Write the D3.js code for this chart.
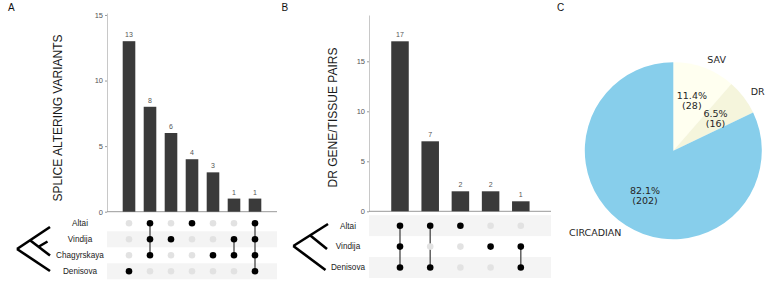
<!DOCTYPE html>
<html><head><meta charset="utf-8">
<script src="https://cdn.jsdelivr.net/npm/d3@7"></script>
<style>
html,body{margin:0;padding:0;background:#fff;}
svg{display:block;}
</style></head>
<body>
<svg id="chart" width="768" height="281"></svg>
<script>
// ---------- data ----------
const setsA = ["Altai", "Vindija", "Chagyrskaya", "Denisova"];
const countsA = [13, 8, 6, 4, 3, 1, 1];
const combosA = [
  ["Denisova"],
  ["Altai", "Vindija", "Chagyrskaya"],
  ["Vindija"],
  ["Altai"],
  ["Chagyrskaya"],
  ["Vindija", "Chagyrskaya"],
  ["Altai", "Vindija", "Chagyrskaya", "Denisova"]
];
const ticksA = [0, 5, 10, 15];
const titleA = "SPLICE ALTERING VARIANTS";

const setsB = ["Altai", "Vindija", "Denisova"];
const countsB = [17, 7, 2, 2, 1];
const combosB = [
  ["Altai", "Vindija", "Denisova"],
  ["Altai", "Denisova"],
  ["Altai"],
  ["Vindija"],
  ["Vindija", "Denisova"]
];
const ticksB = [0, 5, 10, 15];
const titleB = "DR GENE/TISSUE PAIRS";

const pieLabels = ["SAV", "DR", "CIRCADIAN"];
const pieValues = [28, 16, 202];
const pieColors = ["#FFFFF0", "#F5F5DC", "#87CEEB"];

// ---------- drawing ----------
const svg = d3.select("#chart");
const SANS = "'Liberation Sans', Arial, Helvetica, sans-serif";
const DEJA = "'DejaVu Sans', sans-serif";

function upset(cfg) {
  const g = svg.append("g");
  const n = cfg.counts.length;
  const x = d3.scaleBand().domain(d3.range(n)).range(cfg.xRange)
    .paddingInner(cfg.padIn).paddingOuter(0.2);
  const y = d3.scaleLinear().domain([0, cfg.yMax]).range(cfg.yRange);
  const row = d3.scalePoint().domain(cfg.sets).range(cfg.rowRange);
  const rowStep = (cfg.rowRange[1] - cfg.rowRange[0]) / (cfg.sets.length - 1);

  // row bands
  g.selectAll("rect.band").data(cfg.sets.filter((s, i) => i % 2 === cfg.bandParity))
    .join("rect").attr("class", "band")
    .attr("x", cfg.axisX).attr("width", cfg.bandRight - cfg.axisX)
    .attr("y", d => row(d) - rowStep / 2).attr("height", rowStep)
    .attr("fill", "#f4f4f4");

  // y axis
  const axis = d3.axisLeft(y).tickValues(cfg.ticks).tickSize(2).tickPadding(2).tickSizeOuter(0);
  const ag = g.append("g").attr("transform", `translate(${cfg.axisX},0)`).call(axis);
  ag.select(".domain").attr("stroke", "#c8c8c8").attr("stroke-width", 1);
  ag.selectAll(".tick line").attr("stroke", "#999");
  ag.selectAll(".tick text").attr("fill", "#555").attr("font-size", 7.5).attr("font-family", SANS);

  // baseline
  g.append("line").attr("x1", cfg.axisX).attr("x2", cfg.bandRight)
    .attr("y1", y(0)).attr("y2", y(0)).attr("stroke", "#999").attr("stroke-width", 1);

  // bars
  g.selectAll("rect.bar").data(cfg.counts).join("rect").attr("class", "bar")
    .attr("x", (d, i) => x(i)).attr("width", x.bandwidth())
    .attr("y", d => y(d)).attr("height", d => y(0) - y(d))
    .attr("fill", "#3a3a3a");
  g.selectAll("text.val").data(cfg.counts).join("text").attr("class", "val")
    .attr("x", (d, i) => x(i) + x.bandwidth() / 2).attr("y", d => y(d) - 4)
    .attr("text-anchor", "middle").attr("font-size", 7).attr("fill", "#555")
    .attr("font-family", SANS).text(d => d);

  // title
  g.append("text").attr("transform", `translate(${cfg.titleX},${cfg.titleY}) rotate(-90)`)
    .attr("text-anchor", "middle").attr("font-size", 12).attr("fill", "#1a1a1a")
    .attr("font-family", SANS).text(cfg.title);

  // set labels
  g.selectAll("text.set").data(cfg.sets).join("text").attr("class", "set")
    .attr("x", cfg.labelX).attr("y", d => row(d)).attr("dy", "0.35em")
    .attr("text-anchor", "middle").attr("font-size", 8.2).attr("fill", "#222")
    .attr("font-family", SANS).text(d => d);

  // matrix
  cfg.combos.forEach((combo, i) => {
    const cx = x(i) + x.bandwidth() / 2;
    const ys = combo.map(s => row(s));
    if (ys.length > 1) {
      g.append("line").attr("x1", cx).attr("x2", cx)
        .attr("y1", d3.min(ys)).attr("y2", d3.max(ys))
        .attr("stroke", "#555").attr("stroke-width", 1.4);
    }
    cfg.sets.forEach(s => {
      const on = combo.includes(s);
      g.append("circle").attr("cx", cx).attr("cy", row(s)).attr("r", 3.3)
        .attr("fill", on ? "#000" : "#e2e2e2");
    });
  });

  // phylogeny tree
  g.append("g").selectAll("line").data(cfg.tree).join("line")
    .attr("x1", d => d[0]).attr("y1", d => d[1]).attr("x2", d => d[2]).attr("y2", d => d[3])
    .attr("stroke", "#000").attr("stroke-width", 2.6);
}

upset({
  sets: setsA, counts: countsA, combos: combosA, ticks: ticksA, title: titleA,
  xRange: [118.5, 265.5], padIn: 0.4, yMax: 15.15, yRange: [211.7, 13],
  rowRange: [223.3, 271.3], bandParity: 1, axisX: 107, bandRight: 277,
  titleX: 61.5, titleY: 118, labelX: 80,
  tree: [[17, 249, 50, 227], [17, 249, 50, 271], [30, 240.3, 50, 255.5], [39, 246.5, 47.5, 241.5]]
});

upset({
  sets: setsB, counts: countsB, combos: combosB, ticks: ticksB, title: titleB,
  xRange: [385.2, 535.6], padIn: 0.42, yMax: 19.63, yRange: [211.3, 15],
  rowRange: [225.7, 267.5], bandParity: 0, axisX: 369, bandRight: 551,
  titleX: 337, titleY: 117.5, labelX: 348,
  tree: [[293.3, 246, 328, 224], [293.3, 246, 325.5, 270], [310, 235.3, 327, 249]]
});

// ---------- pie ----------
const cx = 673.3, cy = 150.7, R = 88.5;
const pg = svg.append("g").attr("transform", `translate(${cx},${cy})`);
const total = d3.sum(pieValues);
const arcs = d3.pie().sort(null).value(d => d)(pieValues);
const arc = d3.arc().innerRadius(0).outerRadius(R);
pg.selectAll("path").data(arcs).join("path")
  .attr("d", arc).attr("fill", (d, i) => pieColors[i]);

arcs.forEach((a, i) => {
  const mid = (a.startAngle + a.endAngle) / 2;
  const sx = Math.sin(mid), sy = -Math.cos(mid);
  // category label
  pg.append("text").attr("x", 1.1 * R * sx).attr("y", 1.1 * R * sy).attr("dy", "0.35em")
    .attr("text-anchor", sx > 0 ? "start" : "end")
    .attr("font-size", 9.5).attr("fill", "#262626").attr("font-family", DEJA)
    .text(pieLabels[i]);
  // percentage
  const px = 0.6 * R * sx, py = 0.6 * R * sy;
  const t = pg.append("text").attr("text-anchor", "middle")
    .attr("font-size", 9.5).attr("fill", "#262626").attr("font-family", DEJA);
  t.append("tspan").attr("x", px).attr("y", py - 1.5)
    .text((pieValues[i] / total * 100).toFixed(1) + "%");
  t.append("tspan").attr("x", px).attr("y", py + 8.5).text("(" + pieValues[i] + ")");
});

// ---------- panel letters ----------
[["A", 8], ["B", 281.5], ["C", 557]].forEach(([l, px]) => {
  svg.append("text").attr("x", px).attr("y", 11).attr("font-size", 10)
    .attr("fill", "#111").attr("font-family", SANS).text(l);
});
</script>
</body></html>
